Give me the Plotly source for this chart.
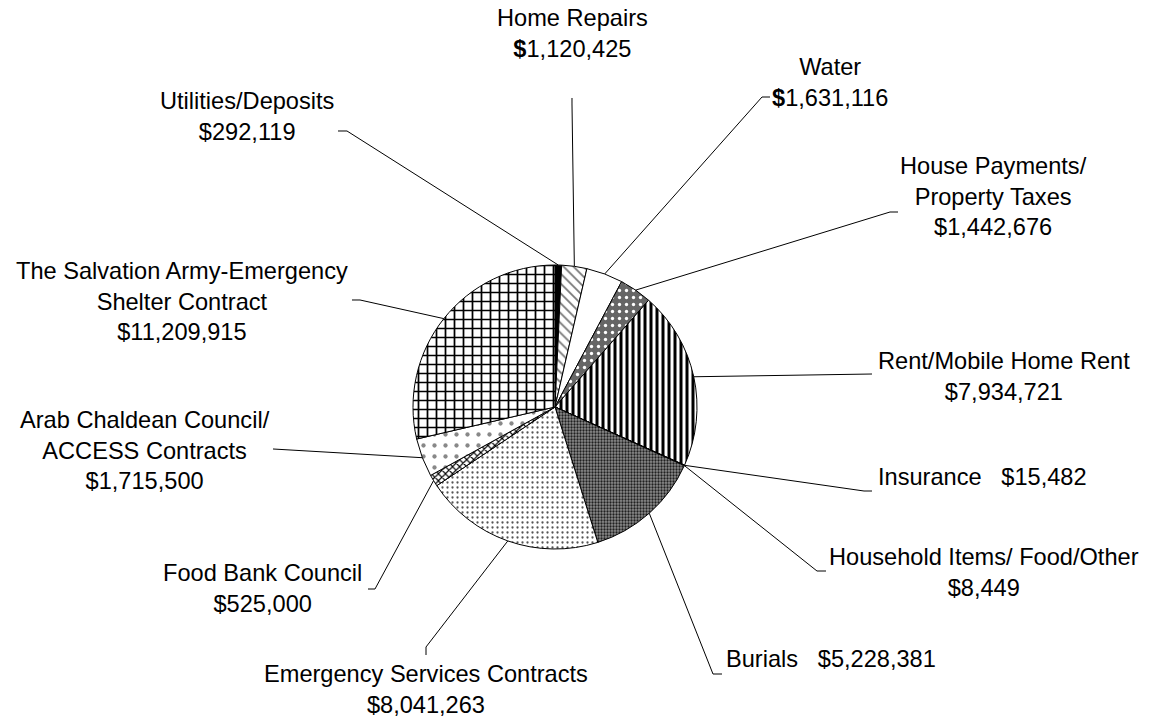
import math

import plotly.graph_objects as go

# slice data, clockwise from 12 o'clock
NAMES = [
    "Utilities/Deposits",
    "Home Repairs",
    "Water",
    "House Payments/ Property Taxes",
    "Rent/Mobile Home Rent",
    "Insurance",
    "Household Items/ Food/Other",
    "Burials",
    "Emergency Services Contracts",
    "Food Bank Council",
    "Arab Chaldean Council/ ACCESS Contracts",
    "The Salvation Army-Emergency Shelter Contract",
]
VALUES = [
    292119,
    1120425,
    1631116,
    1442676,
    7934721,
    15482,
    8449,
    5228381,
    8041263,
    525000,
    1715500,
    11209915,
]

W, H = 1149, 722
CX, CY, R = 555, 407, 142  # pie centre / radius in px

# fill styles per slice: (bgcolor, shape, fgcolor, size, solidity)
STYLES = [
    ("#000000", "", "#000000", 8, 0.3),
    ("#ffffff", "\\", "#777777", 7, 0.25),
    ("#ffffff", "", "#000000", 8, 0.3),
    ("#666666", ".", "#ffffff", 7, 0.18),
    ("#ffffff", "|", "#000000", 6, 0.5),
    ("#888888", "", "#000000", 8, 0.3),
    ("#ffffff", "", "#000000", 8, 0.3),
    ("#8c8c8c", ".", "#202020", 3, 0.45),
    ("#ffffff", ".", "#555555", 5, 0.16),
    ("#ffffff", "x", "#000000", 5, 0.4),
    ("#ffffff", ".", "#888888", 11, 0.12),
    ("#ffffff", "+", "#000000", 9, 0.35),
]

# label text layout: display name, centre (px), leader points from label side (px)
LABELS = {
    "Utilities/Deposits": ("Utilities/Deposits", (247, 116), [(338, 131), (347, 131)]),
    "Home Repairs": ("Home Repairs", (572, 34), [(572, 98), (572, 104)]),
    "Water": ("Water", (830, 82), [(770, 97), (762, 97)]),
    "House Payments/ Property Taxes": ("House Payments/<br>Property Taxes", (993, 197), [(898, 212), (890, 212)]),
    "Rent/Mobile Home Rent": ("Rent/Mobile Home Rent", (1004, 376), [(872, 374)]),
    "Insurance": ("Insurance\u00a0\u00a0\u00a0", (982, 477), [(872, 491), (864, 491)]),
    "Household Items/ Food/Other": ("Household Items/ Food/Other", (984, 572), [(826, 571), (817, 571)]),
    "Burials": ("Burials\u00a0\u00a0\u00a0", (831, 659), [(722, 674), (713, 674)]),
    "Emergency Services Contracts": ("Emergency Services Contracts", (426, 689), [(426, 655), (426, 647)]),
    "Food Bank Council": ("Food Bank Council", (262, 588), [(368, 589), (375, 589)]),
    "Arab Chaldean Council/ ACCESS Contracts": ("Arab Chaldean Council/<br>ACCESS Contracts", (145, 450), [(273, 449)]),
    "The Salvation Army-Emergency Shelter Contract": (
        "The Salvation Army-Emergency<br>Shelter Contract", (182, 301), [(352, 300), (360, 300)]),
}
ONE_LINE = {"Insurance", "Burials"}
BOLD_DOLLAR = {"Home Repairs", "Water"}


def px(x, y):
    return x / W, 1 - y / H


fig = go.Figure()
fig.add_trace(
    go.Pie(
        labels=NAMES,
        values=VALUES,
        sort=False,
        direction="clockwise",
        rotation=0,
        textinfo="none",
        showlegend=False,
        marker=dict(
            colors=[s[0] for s in STYLES],
            line=dict(color="#000000", width=1),
            pattern=dict(
                shape=[s[1] for s in STYLES],
                bgcolor=[s[0] for s in STYLES],
                fgcolor=[s[2] for s in STYLES],
                size=[s[3] for s in STYLES],
                solidity=[s[4] for s in STYLES],
            ),
        ),
        domain=dict(x=[(CX - R) / W, (CX + R) / W], y=[1 - (CY + R) / H, 1 - (CY - R) / H]),
    )
)

total = sum(VALUES)
cum = 0
shapes = []
annotations = []
for name, v in zip(NAMES, VALUES):
    mid = (cum + v / 2) / total * 2 * math.pi
    cum += v
    edge = (CX + R * math.sin(mid), CY - R * math.cos(mid))
    text, (tx, ty), pts = LABELS[name]
    amount = f"{v:,}"
    dollar = "<b>$</b>" if name in BOLD_DOLLAR else "$"
    if name in ONE_LINE:
        full = f"{text}{dollar}{amount}"
    else:
        full = f"{text}<br>{dollar}{amount}"
    path_pts = pts + [edge]
    path = "M " + " L ".join(f"{px(x, y)[0]:.5f},{px(x, y)[1]:.5f}" for x, y in path_pts)
    shapes.append(dict(type="path", xref="paper", yref="paper", path=path,
                       line=dict(color="#000000", width=1)))
    ax, ay = px(tx, ty)
    annotations.append(dict(x=ax, y=ay, xref="paper", yref="paper", text=full,
                            showarrow=False, xanchor="center", yanchor="middle",
                            align="center", font=dict(size=23.6, color="#000000")))

fig.update_layout(
    width=W,
    height=H,
    margin=dict(l=0, r=0, t=0, b=0),
    paper_bgcolor="#ffffff",
    plot_bgcolor="#ffffff",
    font=dict(family="Liberation Sans, Arial, sans-serif"),
    shapes=shapes,
    annotations=annotations,
)

fig.write_html(
    "out.html",
    config={"displayModeBar": False},
    post_script="document.body.style.margin='0';",
)
